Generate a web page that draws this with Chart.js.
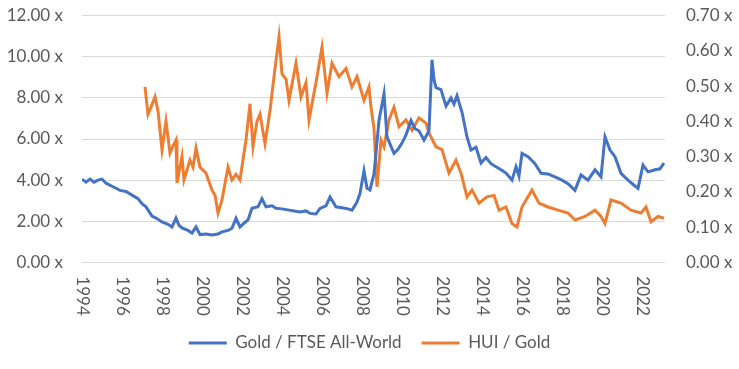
<!DOCTYPE html>
<html>
<head>
<meta charset="utf-8">
<script src="https://cdn.jsdelivr.net/npm/chart.js@4.4.1/dist/chart.umd.min.js"></script>
<style>
  html, body { margin: 0; padding: 0; background: #fff; }
  #wrap { width: 739px; height: 369px; }
</style>
</head>
<body>
<div id="wrap"><canvas id="chart"></canvas></div>
<script>
// Gold / FTSE All-World (axe gauche)
const goldYears = [1994.0, 1994.2, 1994.4, 1994.6, 1994.8, 1995.0, 1995.2, 1995.5, 1995.9, 1996.2,
  1996.5, 1996.8, 1997.0, 1997.2, 1997.5, 1997.7, 1998.0, 1998.3, 1998.5, 1998.7,
  1998.85, 1999.0, 1999.3, 1999.5, 1999.7, 1999.9, 2000.2, 2000.5, 2000.8, 2001.0,
  2001.3, 2001.5, 2001.7, 2001.9, 2002.1, 2002.3, 2002.5, 2002.8, 2003.0, 2003.2,
  2003.5, 2003.7, 2004.0, 2004.35, 2004.6, 2004.9, 2005.2, 2005.4, 2005.7, 2005.9,
  2006.2, 2006.4, 2006.7, 2007.0, 2007.3, 2007.5, 2007.75, 2007.9, 2008.1, 2008.25,
  2008.4, 2008.6, 2008.85, 2009.1, 2009.25, 2009.6, 2009.8, 2010.0, 2010.2, 2010.45,
  2010.65, 2010.85, 2011.1, 2011.35, 2011.5, 2011.6, 2011.7, 2011.95, 2012.2, 2012.45,
  2012.6, 2012.75, 2013.0, 2013.25, 2013.45, 2013.7, 2013.95, 2014.2, 2014.45, 2014.7,
  2014.95, 2015.2, 2015.5, 2015.7, 2015.85, 2016.0, 2016.3, 2016.65, 2016.95, 2017.3,
  2017.65, 2018.0, 2018.3, 2018.65, 2018.95, 2019.3, 2019.65, 2019.95, 2020.15, 2020.4,
  2020.65, 2020.95, 2021.3, 2021.6, 2021.8, 2022.05, 2022.3, 2022.65, 2022.9, 2023.1];
const goldFtse = [4.05, 3.9, 4.05, 3.9, 4.0, 4.05, 3.85, 3.7, 3.5, 3.45,
  3.27, 3.1, 2.85, 2.7, 2.25, 2.15, 1.96, 1.85, 1.72, 2.15,
  1.8, 1.67, 1.55, 1.42, 1.72, 1.35, 1.38, 1.33, 1.38, 1.48,
  1.55, 1.66, 2.14, 1.72, 1.9, 2.06, 2.63, 2.7, 3.1, 2.7,
  2.75, 2.63, 2.6, 2.54, 2.5, 2.45, 2.5, 2.38, 2.35, 2.62,
  2.75, 3.18, 2.7, 2.65, 2.6, 2.54, 2.93, 3.35, 4.45, 3.6,
  3.52, 4.3, 6.9, 8.2, 6.1, 5.3, 5.5, 5.8, 6.2, 6.9,
  6.5, 6.4, 5.95, 6.4, 9.85, 8.9, 8.5, 8.4, 7.6, 8.0,
  7.7, 8.1, 7.3, 6.1, 5.46, 5.6, 4.83, 5.1, 4.8, 4.65,
  4.5, 4.34, 4.0, 4.65, 4.2, 5.3, 5.14, 4.8, 4.33, 4.3,
  4.16, 4.0, 3.83, 3.5, 4.25, 4.0, 4.5, 4.16, 6.1, 5.46,
  5.14, 4.33, 4.0, 3.75, 3.6, 4.73, 4.4, 4.5, 4.55, 4.83];

// HUI / Gold (axe droit)
const huiYears = [1997.15, 1997.3, 1997.45, 1997.65, 1997.8, 1998.0, 1998.2, 1998.4, 1998.55, 1998.7,
  1998.75, 1999.0, 1999.1, 1999.4, 1999.55, 1999.7, 1999.9, 2000.2, 2000.5, 2000.65,
  2000.8, 2001.0, 2001.3, 2001.5, 2001.7, 2001.9, 2002.2, 2002.4, 2002.55, 2002.75,
  2002.9, 2003.15, 2003.4, 2003.6, 2003.85, 2004.0, 2004.2, 2004.35, 2004.7, 2004.95,
  2005.2, 2005.35, 2005.5, 2005.7, 2006.0, 2006.25, 2006.5, 2006.85, 2007.2, 2007.5,
  2007.75, 2008.1, 2008.35, 2008.45, 2008.6, 2008.75, 2008.95, 2009.1, 2009.35, 2009.6,
  2009.85, 2010.2, 2010.5, 2010.85, 2011.2, 2011.35, 2011.7, 2012.0, 2012.35, 2012.7,
  2012.95, 2013.25, 2013.5, 2013.85, 2014.25, 2014.6, 2014.85, 2015.2, 2015.5, 2015.75,
  2016.0, 2016.5, 2016.85, 2017.3, 2017.8, 2018.3, 2018.65, 2019.15, 2019.65, 2019.95,
  2020.15, 2020.45, 2020.95, 2021.45, 2021.95, 2022.2, 2022.45, 2022.8, 2023.1];
const huiGold = [0.498, 0.42, 0.44, 0.47, 0.43, 0.32, 0.40, 0.31, 0.33, 0.347,
  0.225, 0.30, 0.234, 0.29, 0.27, 0.324, 0.27, 0.253, 0.205, 0.19,
  0.14, 0.177, 0.27, 0.234, 0.25, 0.234, 0.347, 0.45, 0.328, 0.40,
  0.42, 0.337, 0.43, 0.527, 0.64, 0.535, 0.52, 0.46, 0.565, 0.47,
  0.51, 0.404, 0.45, 0.51, 0.61, 0.48, 0.565, 0.527, 0.55, 0.498,
  0.527, 0.46, 0.498, 0.44, 0.38, 0.214, 0.347, 0.328, 0.404, 0.44,
  0.385, 0.404, 0.375, 0.41, 0.395, 0.367, 0.328, 0.32, 0.253, 0.29,
  0.253, 0.186, 0.205, 0.168, 0.186, 0.19, 0.148, 0.157, 0.11, 0.10,
  0.157, 0.205, 0.168, 0.157, 0.148, 0.14, 0.12, 0.13, 0.148, 0.13,
  0.11, 0.177, 0.168, 0.148, 0.14, 0.157, 0.115, 0.13, 0.125];

const xTickLabels = ["1994", "1996", "1998", "2000", "2002", "2004", "2006", "2008",
  "2010", "2012", "2014", "2016", "2018", "2020", "2022"];

const FONT = "Lato, 'Open Sans', sans-serif";
const TEXT_COLOR = "#595959";

// Étiquettes de l'axe X écrites de haut en bas (comme Excel)
const verticalYearLabels = {
  id: "verticalYearLabels",
  afterDraw(chart) {
    const ctx = chart.ctx;
    const xScale = chart.scales.x;
    const top = chart.chartArea.bottom + 14;
    ctx.save();
    ctx.fillStyle = TEXT_COLOR;
    ctx.font = "17px " + FONT;
    ctx.textAlign = "left";
    ctx.textBaseline = "middle";
    xTickLabels.forEach((label) => {
      const x = xScale.getPixelForValue(Number(label));
      ctx.save();
      ctx.translate(x, top);
      ctx.rotate(Math.PI / 2);
      ctx.fillText(label, 0, 0);
      ctx.restore();
    });
    ctx.restore();
  },
};

// Pas de marge automatique en haut/bas des axes Y
const noAxisPadding = (s) => {
  s.paddingTop = 0;
  s.paddingBottom = 0;
};

new Chart(document.getElementById("chart"), {
  type: "line",
  data: {
    datasets: [
      {
        label: "Gold / FTSE All-World",
        data: goldYears.map((y, i) => ({ x: y, y: goldFtse[i] })),
        borderColor: "#4472C4",
        backgroundColor: "#4472C4",
        borderWidth: 3,
        pointRadius: 0,
        tension: 0,
        yAxisID: "y",
      },
      {
        label: "HUI / Gold",
        data: huiYears.map((y, i) => ({ x: y, y: huiGold[i] })),
        borderColor: "#ED7D31",
        backgroundColor: "#ED7D31",
        borderWidth: 3,
        pointRadius: 0,
        tension: 0,
        yAxisID: "y1",
      },
    ],
  },
  options: {
    responsive: true,
    maintainAspectRatio: false,
    devicePixelRatio: 1,
    animation: false,
    layout: { padding: { top: 15.7, bottom: 7.5, left: 0, right: 0 } },
    plugins: {
      tooltip: { enabled: false },
      legend: {
        position: "bottom",
        labels: {
          font: { family: FONT, size: 17 },
          color: TEXT_COLOR,
          boxWidth: 38,
          boxHeight: 3,
          padding: 20,
          generateLabels: (chart) =>
            chart.data.datasets.map((ds, i) => ({
              text: ds.label,
              fillStyle: ds.borderColor,
              strokeStyle: ds.borderColor,
              lineWidth: 0,
              fontColor: TEXT_COLOR,
              datasetIndex: i,
              hidden: false,
            })),
        },
      },
    },
    scales: {
      x: {
        type: "linear",
        min: 1994,
        max: 2023.15,
        grid: { display: false },
        border: { display: false },
        ticks: { display: false },
        afterFit: (s) => { s.height = 52.2; },
      },
      y: {
        position: "left",
        min: 0,
        max: 12,
        grid: { color: "#d9d9d9", drawTicks: false },
        border: { display: false },
        ticks: {
          stepSize: 2,
          padding: 19,
          color: TEXT_COLOR,
          font: { family: FONT, size: 17 },
          callback: (v) => v.toFixed(2) + " x",
        },
        afterFit: (s) => { s.width = 82; noAxisPadding(s); },
      },
      y1: {
        position: "right",
        min: 0,
        max: 0.7,
        grid: { drawOnChartArea: false, drawTicks: false },
        border: { display: false },
        ticks: {
          stepSize: 0.1,
          padding: 21,
          color: TEXT_COLOR,
          font: { family: FONT, size: 17 },
          callback: (v) => v.toFixed(2) + " x",
        },
        afterFit: (s) => { s.width = 74; noAxisPadding(s); },
      },
    },
  },
  plugins: [verticalYearLabels],
});
</script>
</body>
</html>
